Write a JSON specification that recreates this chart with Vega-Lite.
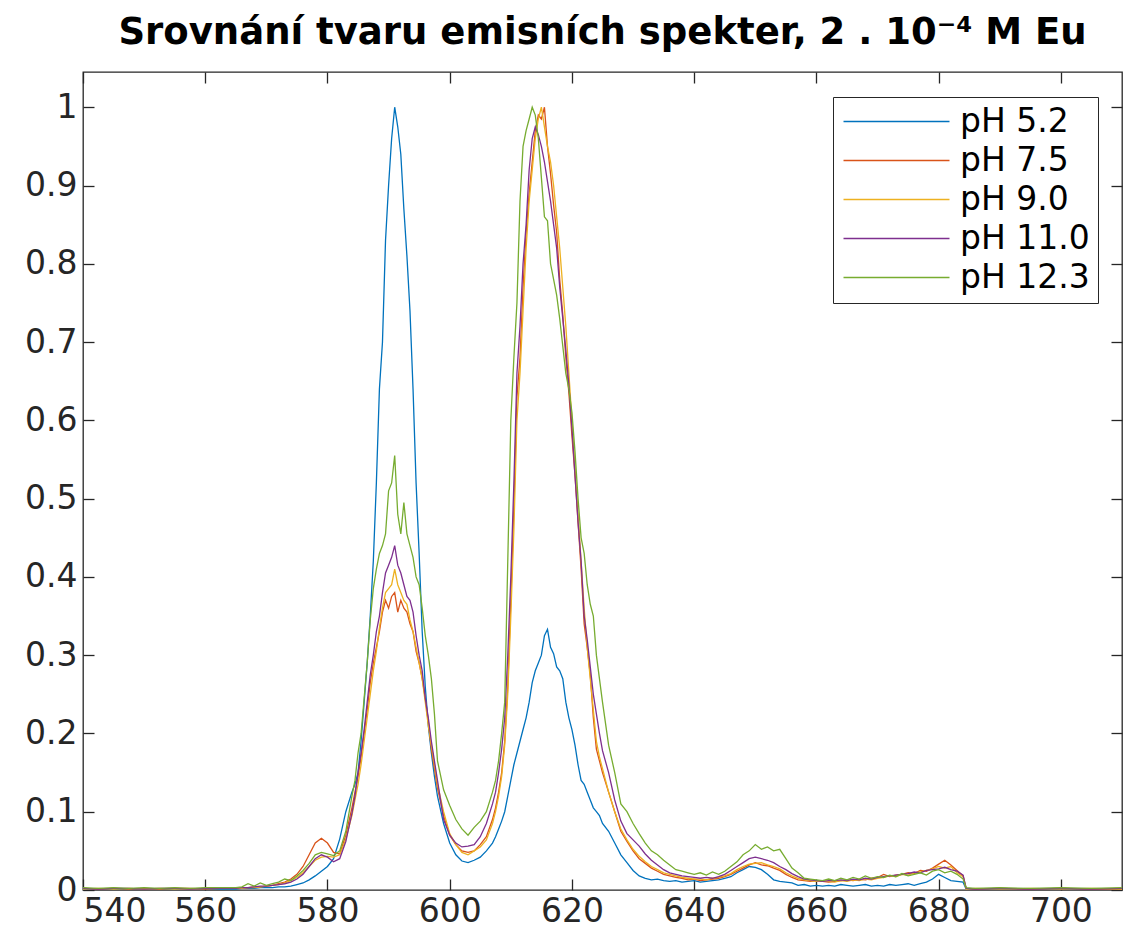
{
"$schema": "https://vega.github.io/schema/vega-lite/v6.json",
"width": 1039, "height": 818,
"autosize": {"type": "none"},
"padding": {"left": 83, "top": 72, "right": 1, "bottom": 52},
"background": "white",
"title": {"text": "Srovnání tvaru emisních spekter, 2 . 10⁻⁴ M Eu", "font": "DejaVu Sans", "fontWeight": "bold", "fontSize": 37, "color": "#000000", "anchor": "middle", "frame": "group", "baseline": "alphabetic", "offset": -10},
"config": {
  "view": {"stroke": "#262626", "strokeWidth": 1.3},
  "axis": {"grid": false, "labelFont": "DejaVu Sans", "labelFontSize": 33, "labelColor": "#262626", "tickColor": "#262626", "tickWidth": 1.3, "domain": false, "title": null}
},
"datasets": {
"b": [{"x":540,"y":0.001},{"x":542.5,"y":0},{"x":545,"y":0.001},{"x":547.5,"y":0},{"x":550,"y":0.001},{"x":552.5,"y":0.001},{"x":555,"y":0},{"x":557.5,"y":0.001},{"x":560,"y":0.001},{"x":562.5,"y":0.001},
{"x":565,"y":0.001},{"x":566,"y":0.002},{"x":567,"y":0.002},{"x":568,"y":0.002},{"x":569,"y":0.003},{"x":570,"y":0.003},{"x":571,"y":0.003},{"x":572,"y":0.004},{"x":573,"y":0.004},{"x":574,"y":0.005},{"x":575,"y":0.007},{"x":576,"y":0.009},{"x":577,"y":0.013},{"x":578,"y":0.018},{"x":579,"y":0.024},{"x":580,"y":0.03},{"x":581,"y":0.04},{"x":582,"y":0.065},{"x":583,"y":0.1},{"x":584,"y":0.125},
{"x":584.5,"y":0.135},{"x":585,"y":0.15},{"x":585.5,"y":0.19},{"x":586,"y":0.24},{"x":586.5,"y":0.29},{"x":587,"y":0.35},{"x":587.5,"y":0.42},{"x":588,"y":0.52},{"x":588.5,"y":0.64},{"x":589,"y":0.7},{"x":589.5,"y":0.83},{"x":590,"y":0.9},{"x":590.5,"y":0.96},{"x":591,"y":1.0},{"x":591.5,"y":0.975},{"x":592,"y":0.94},{"x":592.5,"y":0.87},{"x":593,"y":0.81},{"x":593.5,"y":0.74},{"x":594,"y":0.64},{"x":594.5,"y":0.52},{"x":595,"y":0.43},{"x":595.5,"y":0.33},{"x":596,"y":0.26},{"x":596.5,"y":0.21},{"x":597,"y":0.175},{"x":597.5,"y":0.145},{"x":598,"y":0.12},
{"x":599,"y":0.085},{"x":600,"y":0.06},{"x":601,"y":0.045},{"x":602,"y":0.037},{"x":603,"y":0.035},{"x":604,"y":0.038},{"x":605,"y":0.042},{"x":606,"y":0.05},{"x":607,"y":0.06},
{"x":607.5,"y":0.068},{"x":608,"y":0.078},{"x":608.5,"y":0.088},{"x":609,"y":0.1},{"x":609.5,"y":0.12},{"x":610,"y":0.14},{"x":610.5,"y":0.16},{"x":611,"y":0.175},{"x":611.5,"y":0.19},{"x":612,"y":0.205},{"x":612.5,"y":0.22},{"x":613,"y":0.24},{"x":613.5,"y":0.265},{"x":614,"y":0.28},{"x":614.5,"y":0.29},{"x":615,"y":0.3},{"x":615.5,"y":0.325},{"x":616,"y":0.333},{"x":616.5,"y":0.31},{"x":617,"y":0.302},{"x":617.5,"y":0.285},{"x":618,"y":0.28},{"x":618.5,"y":0.27},{"x":619,"y":0.24},{"x":619.5,"y":0.22},{"x":620,"y":0.205},{"x":620.5,"y":0.185},{"x":621,"y":0.16},{"x":621.5,"y":0.14},{"x":622,"y":0.135},{"x":622.5,"y":0.125},{"x":623,"y":0.115},{"x":623.5,"y":0.105},{"x":624,"y":0.1},{"x":624.5,"y":0.095},{"x":625,"y":0.085},
{"x":626,"y":0.075},{"x":627,"y":0.06},{"x":628,"y":0.045},{"x":629,"y":0.035},{"x":630,"y":0.025},{"x":631,"y":0.018},{"x":632,"y":0.015},{"x":633,"y":0.013},{"x":634,"y":0.014},{"x":635,"y":0.012},{"x":636,"y":0.011},{"x":637,"y":0.012},{"x":638,"y":0.01},{"x":639,"y":0.011},{"x":640,"y":0.012},{"x":641,"y":0.01},{"x":642,"y":0.011},{"x":643,"y":0.012},{"x":644,"y":0.013},{"x":645,"y":0.015},{"x":646,"y":0.017},{"x":647,"y":0.022},{"x":648,"y":0.026},{"x":649,"y":0.03},{"x":650,"y":0.029},{"x":651,"y":0.026},{"x":652,"y":0.02},{"x":653,"y":0.013},{"x":654,"y":0.011},{"x":655,"y":0.01},{"x":656,"y":0.009},{"x":657,"y":0.006},{"x":658,"y":0.007},{"x":659,"y":0.005},{"x":660,"y":0.006},{"x":661,"y":0.005},{"x":662,"y":0.006},{"x":663,"y":0.005},{"x":664,"y":0.007},{"x":665,"y":0.006},{"x":666,"y":0.005},{"x":667,"y":0.006},{"x":668,"y":0.007},{"x":669,"y":0.005},{"x":670,"y":0.006},{"x":671,"y":0.005},{"x":672,"y":0.007},{"x":673,"y":0.006},{"x":674,"y":0.007},{"x":675,"y":0.008},{"x":676,"y":0.006},{"x":677,"y":0.008},{"x":678,"y":0.01},{"x":679,"y":0.014},{"x":680,"y":0.02},{"x":681,"y":0.016},{"x":682,"y":0.012},{"x":683,"y":0.011},{"x":684,"y":0.01},
{"x":684.5,"y":0.001},{"x":686,"y":0},{"x":690,"y":0.001},{"x":695,"y":0},{"x":700,"y":0.001},{"x":705,"y":0},{"x":710,"y":0.001}],
"o": [{"x":540,"y":0.002},{"x":542.5,"y":0.001},{"x":545,"y":0.002},{"x":547.5,"y":0.001},{"x":550,"y":0.002},{"x":552.5,"y":0.001},{"x":555,"y":0.002},{"x":557.5,"y":0.002},{"x":560,"y":0.001},{"x":562.5,"y":0.002},
{"x":565,"y":0.002},{"x":566,"y":0.003},{"x":567,"y":0.003},{"x":568,"y":0.004},{"x":569,"y":0.004},{"x":570,"y":0.005},{"x":571,"y":0.006},{"x":572,"y":0.008},{"x":573,"y":0.01},{"x":574,"y":0.014},{"x":575,"y":0.02},{"x":576,"y":0.03},{"x":577,"y":0.045},{"x":578,"y":0.06},{"x":579,"y":0.066},{"x":580,"y":0.06},{"x":581,"y":0.048},{"x":582,"y":0.046},{"x":583,"y":0.07},{"x":584,"y":0.105},
{"x":584.5,"y":0.125},{"x":585,"y":0.145},{"x":585.5,"y":0.17},{"x":586,"y":0.2},{"x":586.5,"y":0.23},{"x":587,"y":0.265},{"x":587.5,"y":0.29},{"x":588,"y":0.31},{"x":588.5,"y":0.33},{"x":589,"y":0.355},{"x":589.5,"y":0.37},{"x":590,"y":0.36},{"x":590.5,"y":0.375},{"x":591,"y":0.38},{"x":591.5,"y":0.355},{"x":592,"y":0.37},{"x":592.5,"y":0.36},{"x":593,"y":0.355},{"x":593.5,"y":0.34},{"x":594,"y":0.33},{"x":594.5,"y":0.305},{"x":595,"y":0.29},{"x":595.5,"y":0.27},{"x":596,"y":0.245},{"x":596.5,"y":0.215},{"x":597,"y":0.18},{"x":597.5,"y":0.155},{"x":598,"y":0.13},
{"x":599,"y":0.095},{"x":600,"y":0.07},{"x":601,"y":0.058},{"x":602,"y":0.05},{"x":603,"y":0.048},{"x":604,"y":0.05},{"x":605,"y":0.058},{"x":606,"y":0.068},{"x":607,"y":0.09},
{"x":607.5,"y":0.105},{"x":608,"y":0.125},{"x":608.5,"y":0.15},{"x":609,"y":0.19},{"x":609.5,"y":0.26},{"x":610,"y":0.37},{"x":610.5,"y":0.49},{"x":611,"y":0.63},{"x":611.5,"y":0.68},{"x":612,"y":0.77},{"x":612.5,"y":0.84},{"x":613,"y":0.89},{"x":613.5,"y":0.93},{"x":614,"y":0.97},{"x":614.5,"y":0.99},{"x":615,"y":0.985},{"x":615.5,"y":1.0},{"x":616,"y":0.95},{"x":616.5,"y":0.915},{"x":617,"y":0.875},{"x":617.5,"y":0.84},{"x":618,"y":0.78},{"x":618.5,"y":0.735},{"x":619,"y":0.68},{"x":619.5,"y":0.635},{"x":620,"y":0.58},{"x":620.5,"y":0.53},{"x":621,"y":0.47},{"x":621.5,"y":0.41},{"x":622,"y":0.34},{"x":622.5,"y":0.31},{"x":623,"y":0.275},{"x":623.5,"y":0.22},{"x":624,"y":0.18},{"x":624.5,"y":0.165},{"x":625,"y":0.15},
{"x":626,"y":0.125},{"x":627,"y":0.1},{"x":628,"y":0.075},{"x":629,"y":0.062},{"x":630,"y":0.05},{"x":631,"y":0.04},{"x":632,"y":0.034},{"x":633,"y":0.028},{"x":634,"y":0.024},{"x":635,"y":0.02},{"x":636,"y":0.018},{"x":637,"y":0.016},{"x":638,"y":0.015},{"x":639,"y":0.013},{"x":640,"y":0.014},{"x":641,"y":0.012},{"x":642,"y":0.013},{"x":643,"y":0.014},{"x":644,"y":0.015},{"x":645,"y":0.017},{"x":646,"y":0.02},{"x":647,"y":0.024},{"x":648,"y":0.028},{"x":649,"y":0.032},{"x":650,"y":0.035},{"x":651,"y":0.032},{"x":652,"y":0.031},{"x":653,"y":0.028},{"x":654,"y":0.025},{"x":655,"y":0.02},{"x":656,"y":0.016},{"x":657,"y":0.013},{"x":658,"y":0.012},{"x":659,"y":0.011},{"x":660,"y":0.012},{"x":661,"y":0.011},{"x":662,"y":0.01},{"x":663,"y":0.011},{"x":664,"y":0.012},{"x":665,"y":0.013},{"x":666,"y":0.012},{"x":667,"y":0.014},{"x":668,"y":0.013},{"x":669,"y":0.015},{"x":670,"y":0.016},{"x":671,"y":0.02},{"x":672,"y":0.017},{"x":673,"y":0.019},{"x":674,"y":0.02},{"x":675,"y":0.022},{"x":676,"y":0.021},{"x":677,"y":0.025},{"x":678,"y":0.024},{"x":679,"y":0.028},{"x":680,"y":0.033},{"x":681,"y":0.038},{"x":682,"y":0.032},{"x":683,"y":0.025},{"x":684,"y":0.018},
{"x":684.5,"y":0.002},{"x":686,"y":0.001},{"x":690,"y":0.002},{"x":695,"y":0.001},{"x":700,"y":0.002},{"x":705,"y":0.001},{"x":710,"y":0.001}],
"y": [{"x":540,"y":0.001},{"x":542.5,"y":0.002},{"x":545,"y":0.001},{"x":547.5,"y":0.002},{"x":550,"y":0.001},{"x":552.5,"y":0.002},{"x":555,"y":0.001},{"x":557.5,"y":0.001},{"x":560,"y":0.002},{"x":562.5,"y":0.002},
{"x":565,"y":0.002},{"x":566,"y":0.002},{"x":567,"y":0.003},{"x":568,"y":0.003},{"x":569,"y":0.004},{"x":570,"y":0.005},{"x":571,"y":0.006},{"x":572,"y":0.007},{"x":573,"y":0.009},{"x":574,"y":0.012},{"x":575,"y":0.016},{"x":576,"y":0.022},{"x":577,"y":0.03},{"x":578,"y":0.038},{"x":579,"y":0.042},{"x":580,"y":0.043},{"x":581,"y":0.042},{"x":582,"y":0.045},{"x":583,"y":0.065},{"x":584,"y":0.095},
{"x":584.5,"y":0.115},{"x":585,"y":0.135},{"x":585.5,"y":0.16},{"x":586,"y":0.19},{"x":586.5,"y":0.22},{"x":587,"y":0.25},{"x":587.5,"y":0.28},{"x":588,"y":0.305},{"x":588.5,"y":0.335},{"x":589,"y":0.36},{"x":589.5,"y":0.38},{"x":590,"y":0.385},{"x":590.5,"y":0.39},{"x":591,"y":0.41},{"x":591.5,"y":0.39},{"x":592,"y":0.38},{"x":592.5,"y":0.37},{"x":593,"y":0.365},{"x":593.5,"y":0.345},{"x":594,"y":0.33},{"x":594.5,"y":0.31},{"x":595,"y":0.29},{"x":595.5,"y":0.27},{"x":596,"y":0.24},{"x":596.5,"y":0.21},{"x":597,"y":0.185},{"x":597.5,"y":0.16},{"x":598,"y":0.135},
{"x":599,"y":0.1},{"x":600,"y":0.072},{"x":601,"y":0.058},{"x":602,"y":0.048},{"x":603,"y":0.045},{"x":604,"y":0.05},{"x":605,"y":0.055},{"x":606,"y":0.064},{"x":607,"y":0.085},
{"x":607.5,"y":0.1},{"x":608,"y":0.12},{"x":608.5,"y":0.145},{"x":609,"y":0.185},{"x":609.5,"y":0.25},{"x":610,"y":0.35},{"x":610.5,"y":0.46},{"x":611,"y":0.6},{"x":611.5,"y":0.66},{"x":612,"y":0.74},{"x":612.5,"y":0.82},{"x":613,"y":0.88},{"x":613.5,"y":0.92},{"x":614,"y":0.96},{"x":614.5,"y":0.985},{"x":615,"y":1.0},{"x":615.5,"y":0.975},{"x":616,"y":0.95},{"x":616.5,"y":0.93},{"x":617,"y":0.9},{"x":617.5,"y":0.86},{"x":618,"y":0.82},{"x":618.5,"y":0.77},{"x":619,"y":0.72},{"x":619.5,"y":0.66},{"x":620,"y":0.6},{"x":620.5,"y":0.54},{"x":621,"y":0.48},{"x":621.5,"y":0.42},{"x":622,"y":0.36},{"x":622.5,"y":0.31},{"x":623,"y":0.27},{"x":623.5,"y":0.23},{"x":624,"y":0.19},{"x":624.5,"y":0.17},{"x":625,"y":0.155},
{"x":626,"y":0.125},{"x":627,"y":0.1},{"x":628,"y":0.078},{"x":629,"y":0.064},{"x":630,"y":0.052},{"x":631,"y":0.043},{"x":632,"y":0.036},{"x":633,"y":0.03},{"x":634,"y":0.026},{"x":635,"y":0.022},{"x":636,"y":0.02},{"x":637,"y":0.018},{"x":638,"y":0.016},{"x":639,"y":0.015},{"x":640,"y":0.014},{"x":641,"y":0.014},{"x":642,"y":0.013},{"x":643,"y":0.015},{"x":644,"y":0.016},{"x":645,"y":0.018},{"x":646,"y":0.021},{"x":647,"y":0.026},{"x":648,"y":0.03},{"x":649,"y":0.033},{"x":650,"y":0.034},{"x":651,"y":0.035},{"x":652,"y":0.032},{"x":653,"y":0.03},{"x":654,"y":0.027},{"x":655,"y":0.022},{"x":656,"y":0.018},{"x":657,"y":0.015},{"x":658,"y":0.013},{"x":659,"y":0.012},{"x":660,"y":0.011},{"x":661,"y":0.012},{"x":662,"y":0.011},{"x":663,"y":0.01},{"x":664,"y":0.012},{"x":665,"y":0.011},{"x":666,"y":0.013},{"x":667,"y":0.012},{"x":668,"y":0.014},{"x":669,"y":0.013},{"x":670,"y":0.015},{"x":671,"y":0.016},{"x":672,"y":0.018},{"x":673,"y":0.017},{"x":674,"y":0.02},{"x":675,"y":0.019},{"x":676,"y":0.022},{"x":677,"y":0.023},{"x":678,"y":0.025},{"x":679,"y":0.027},{"x":680,"y":0.03},{"x":681,"y":0.028},{"x":682,"y":0.03},{"x":683,"y":0.022},{"x":684,"y":0.017},
{"x":684.5,"y":0.001},{"x":686,"y":0.002},{"x":690,"y":0.001},{"x":695,"y":0.002},{"x":700,"y":0.001},{"x":705,"y":0.002},{"x":710,"y":0.001}],
"p": [{"x":540,"y":0.002},{"x":542.5,"y":0.001},{"x":545,"y":0.002},{"x":547.5,"y":0.002},{"x":550,"y":0.001},{"x":552.5,"y":0.002},{"x":555,"y":0.002},{"x":557.5,"y":0.001},{"x":560,"y":0.002},{"x":562.5,"y":0.002},
{"x":565,"y":0.002},{"x":566,"y":0.003},{"x":567,"y":0.003},{"x":568,"y":0.004},{"x":569,"y":0.005},{"x":570,"y":0.005},{"x":571,"y":0.006},{"x":572,"y":0.007},{"x":573,"y":0.008},{"x":574,"y":0.01},{"x":575,"y":0.014},{"x":576,"y":0.02},{"x":577,"y":0.03},{"x":578,"y":0.04},{"x":579,"y":0.045},{"x":580,"y":0.042},{"x":581,"y":0.036},{"x":582,"y":0.04},{"x":583,"y":0.062},{"x":584,"y":0.098},
{"x":584.5,"y":0.12},{"x":585,"y":0.15},{"x":585.5,"y":0.175},{"x":586,"y":0.205},{"x":586.5,"y":0.24},{"x":587,"y":0.275},{"x":587.5,"y":0.3},{"x":588,"y":0.33},{"x":588.5,"y":0.35},{"x":589,"y":0.38},{"x":589.5,"y":0.405},{"x":590,"y":0.415},{"x":590.5,"y":0.425},{"x":591,"y":0.44},{"x":591.5,"y":0.415},{"x":592,"y":0.405},{"x":592.5,"y":0.39},{"x":593,"y":0.375},{"x":593.5,"y":0.37},{"x":594,"y":0.355},{"x":594.5,"y":0.325},{"x":595,"y":0.3},{"x":595.5,"y":0.28},{"x":596,"y":0.245},{"x":596.5,"y":0.22},{"x":597,"y":0.19},{"x":597.5,"y":0.165},{"x":598,"y":0.14},
{"x":599,"y":0.09},{"x":600,"y":0.07},{"x":601,"y":0.06},{"x":602,"y":0.055},{"x":603,"y":0.056},{"x":604,"y":0.058},{"x":605,"y":0.068},{"x":606,"y":0.085},{"x":607,"y":0.11},
{"x":607.5,"y":0.125},{"x":608,"y":0.15},{"x":608.5,"y":0.18},{"x":609,"y":0.22},{"x":609.5,"y":0.3},{"x":610,"y":0.4},{"x":610.5,"y":0.52},{"x":611,"y":0.66},{"x":611.5,"y":0.72},{"x":612,"y":0.8},{"x":612.5,"y":0.85},{"x":613,"y":0.92},{"x":613.5,"y":0.96},{"x":614,"y":0.975},{"x":614.5,"y":0.965},{"x":615,"y":0.95},{"x":615.5,"y":0.93},{"x":616,"y":0.905},{"x":616.5,"y":0.88},{"x":617,"y":0.85},{"x":617.5,"y":0.82},{"x":618,"y":0.77},{"x":618.5,"y":0.73},{"x":619,"y":0.69},{"x":619.5,"y":0.645},{"x":620,"y":0.59},{"x":620.5,"y":0.53},{"x":621,"y":0.47},{"x":621.5,"y":0.42},{"x":622,"y":0.35},{"x":622.5,"y":0.32},{"x":623,"y":0.285},{"x":623.5,"y":0.25},{"x":624,"y":0.225},{"x":624.5,"y":0.2},{"x":625,"y":0.178},
{"x":626,"y":0.15},{"x":627,"y":0.115},{"x":628,"y":0.088},{"x":629,"y":0.072},{"x":630,"y":0.064},{"x":631,"y":0.056},{"x":632,"y":0.046},{"x":633,"y":0.038},{"x":634,"y":0.032},{"x":635,"y":0.026},{"x":636,"y":0.022},{"x":637,"y":0.02},{"x":638,"y":0.018},{"x":639,"y":0.017},{"x":640,"y":0.016},{"x":641,"y":0.015},{"x":642,"y":0.016},{"x":643,"y":0.015},{"x":644,"y":0.017},{"x":645,"y":0.02},{"x":646,"y":0.025},{"x":647,"y":0.03},{"x":648,"y":0.035},{"x":649,"y":0.04},{"x":650,"y":0.042},{"x":651,"y":0.04},{"x":652,"y":0.038},{"x":653,"y":0.035},{"x":654,"y":0.03},{"x":655,"y":0.026},{"x":656,"y":0.021},{"x":657,"y":0.017},{"x":658,"y":0.014},{"x":659,"y":0.013},{"x":660,"y":0.012},{"x":661,"y":0.011},{"x":662,"y":0.012},{"x":663,"y":0.012},{"x":664,"y":0.013},{"x":665,"y":0.012},{"x":666,"y":0.014},{"x":667,"y":0.013},{"x":668,"y":0.015},{"x":669,"y":0.014},{"x":670,"y":0.016},{"x":671,"y":0.017},{"x":672,"y":0.018},{"x":673,"y":0.019},{"x":674,"y":0.02},{"x":675,"y":0.021},{"x":676,"y":0.023},{"x":677,"y":0.022},{"x":678,"y":0.025},{"x":679,"y":0.026},{"x":680,"y":0.027},{"x":681,"y":0.029},{"x":682,"y":0.026},{"x":683,"y":0.024},{"x":684,"y":0.019},
{"x":684.5,"y":0.002},{"x":686,"y":0.001},{"x":690,"y":0.002},{"x":695,"y":0.001},{"x":700,"y":0.002},{"x":705,"y":0.001},{"x":710,"y":0.002}],
"g": [{"x":540,"y":0.003},{"x":542.5,"y":0.002},{"x":545,"y":0.003},{"x":547.5,"y":0.002},{"x":550,"y":0.003},{"x":552.5,"y":0.002},{"x":555,"y":0.003},{"x":557.5,"y":0.002},{"x":560,"y":0.003},{"x":562.5,"y":0.003},
{"x":565,"y":0.003},{"x":566,"y":0.004},{"x":567,"y":0.008},{"x":568,"y":0.005},{"x":569,"y":0.009},{"x":570,"y":0.006},{"x":571,"y":0.008},{"x":572,"y":0.01},{"x":573,"y":0.014},{"x":574,"y":0.012},{"x":575,"y":0.018},{"x":576,"y":0.025},{"x":577,"y":0.034},{"x":578,"y":0.045},{"x":579,"y":0.048},{"x":580,"y":0.046},{"x":581,"y":0.044},{"x":582,"y":0.05},{"x":583,"y":0.075},{"x":584,"y":0.12},
{"x":584.5,"y":0.14},{"x":585,"y":0.175},{"x":585.5,"y":0.2},{"x":586,"y":0.245},{"x":586.5,"y":0.29},{"x":587,"y":0.345},{"x":587.5,"y":0.385},{"x":588,"y":0.41},{"x":588.5,"y":0.43},{"x":589,"y":0.44},{"x":589.5,"y":0.455},{"x":590,"y":0.51},{"x":590.5,"y":0.52},{"x":591,"y":0.555},{"x":591.5,"y":0.48},{"x":592,"y":0.455},{"x":592.5,"y":0.495},{"x":593,"y":0.455},{"x":593.5,"y":0.44},{"x":594,"y":0.425},{"x":594.5,"y":0.4},{"x":595,"y":0.39},{"x":595.5,"y":0.36},{"x":596,"y":0.325},{"x":596.5,"y":0.3},{"x":597,"y":0.27},{"x":597.5,"y":0.225},{"x":598,"y":0.165},
{"x":599,"y":0.128},{"x":600,"y":0.108},{"x":601,"y":0.09},{"x":602,"y":0.078},{"x":603,"y":0.07},{"x":604,"y":0.08},{"x":605,"y":0.088},{"x":606,"y":0.1},{"x":607,"y":0.125},
{"x":607.5,"y":0.14},{"x":608,"y":0.165},{"x":608.5,"y":0.2},{"x":609,"y":0.24},{"x":609.5,"y":0.42},{"x":610,"y":0.6},{"x":610.5,"y":0.68},{"x":611,"y":0.75},{"x":611.5,"y":0.88},{"x":612,"y":0.95},{"x":612.5,"y":0.97},{"x":613,"y":0.985},{"x":613.5,"y":1.0},{"x":614,"y":0.99},{"x":614.5,"y":0.96},{"x":615,"y":0.91},{"x":615.5,"y":0.86},{"x":616,"y":0.855},{"x":616.5,"y":0.8},{"x":617,"y":0.78},{"x":617.5,"y":0.76},{"x":618,"y":0.73},{"x":618.5,"y":0.695},{"x":619,"y":0.66},{"x":619.5,"y":0.64},{"x":620,"y":0.61},{"x":620.5,"y":0.56},{"x":621,"y":0.5},{"x":621.5,"y":0.45},{"x":622,"y":0.43},{"x":622.5,"y":0.39},{"x":623,"y":0.365},{"x":623.5,"y":0.35},{"x":624,"y":0.3},{"x":624.5,"y":0.27},{"x":625,"y":0.24},
{"x":626,"y":0.185},{"x":627,"y":0.15},{"x":628,"y":0.11},{"x":629,"y":0.1},{"x":630,"y":0.085},{"x":631,"y":0.072},{"x":632,"y":0.06},{"x":633,"y":0.05},{"x":634,"y":0.045},{"x":635,"y":0.038},{"x":636,"y":0.032},{"x":637,"y":0.026},{"x":638,"y":0.024},{"x":639,"y":0.022},{"x":640,"y":0.02},{"x":641,"y":0.022},{"x":642,"y":0.019},{"x":643,"y":0.023},{"x":644,"y":0.02},{"x":645,"y":0.024},{"x":646,"y":0.03},{"x":647,"y":0.036},{"x":648,"y":0.045},{"x":649,"y":0.05},{"x":650,"y":0.058},{"x":651,"y":0.052},{"x":652,"y":0.055},{"x":653,"y":0.05},{"x":654,"y":0.052},{"x":655,"y":0.04},{"x":656,"y":0.028},{"x":657,"y":0.022},{"x":658,"y":0.015},{"x":659,"y":0.014},{"x":660,"y":0.013},{"x":661,"y":0.012},{"x":662,"y":0.014},{"x":663,"y":0.012},{"x":664,"y":0.015},{"x":665,"y":0.013},{"x":666,"y":0.016},{"x":667,"y":0.014},{"x":668,"y":0.018},{"x":669,"y":0.015},{"x":670,"y":0.017},{"x":671,"y":0.016},{"x":672,"y":0.019},{"x":673,"y":0.017},{"x":674,"y":0.021},{"x":675,"y":0.018},{"x":676,"y":0.02},{"x":677,"y":0.022},{"x":678,"y":0.019},{"x":679,"y":0.024},{"x":680,"y":0.026},{"x":681,"y":0.022},{"x":682,"y":0.024},{"x":683,"y":0.02},{"x":684,"y":0.014},
{"x":684.5,"y":0.003},{"x":686,"y":0.002},{"x":690,"y":0.003},{"x":695,"y":0.002},{"x":700,"y":0.003},{"x":705,"y":0.002},{"x":710,"y":0.003}]
},
"layer": [
  {"data": {"name": "b"}, "mark": {"type": "line", "strokeWidth": 1.3, "clip": true},
   "encoding": {
     "x": {"field": "x", "type": "quantitative", "scale": {"domain": [540, 710], "nice": false, "zero": false},
           "axis": {"orient": "bottom", "values": [540, 560, 580, 600, 620, 640, 660, 680, 700], "tickSize": -11, "labelPadding": 16}},
     "y": {"field": "y", "type": "quantitative", "scale": {"domain": [0, 1.045], "nice": false, "zero": false},
           "axis": {"orient": "left", "values": [0, 0.1, 0.2, 0.3, 0.4, 0.5, 0.6, 0.7, 0.8, 0.9, 1], "format": ".1~f", "tickSize": -11, "labelPadding": 17}},
     "color": {"datum": "pH 5.2", "type": "nominal",
       "scale": {"domain": ["pH 5.2", "pH 7.5", "pH 9.0", "pH 11.0", "pH 12.3"], "range": ["#0072BD", "#D95319", "#EDB120", "#7E2F8E", "#77AC30"]},
       "legend": {"orient": "none", "legendX": 750, "legendY": 25, "title": null, "symbolType": "M-6,0H6", "symbolSize": 312, "symbolStrokeWidth": 1.5, "symbolOffset": 39, "labelFontSize": 33, "labelFont": "DejaVu Sans", "labelColor": "#000000", "strokeColor": "#262626", "fillColor": "white", "padding": 8, "labelOffset": 47, "rowPadding": 5, "labelLimit": 400}}
   }},
  {"data": {"name": "o"}, "mark": {"type": "line", "strokeWidth": 1.3, "clip": true},
   "encoding": {
     "x": {"field": "x", "type": "quantitative", "axis": null},
     "y": {"field": "y", "type": "quantitative", "axis": {"orient": "right", "values": [0, 0.1, 0.2, 0.3, 0.4, 0.5, 0.6, 0.7, 0.8, 0.9, 1], "tickSize": -11, "labels": false, "minExtent": 0, "maxExtent": 0}},
     "color": {"datum": "pH 7.5", "type": "nominal"}
   }},
  {"data": {"name": "y"}, "mark": {"type": "line", "strokeWidth": 1.3, "clip": true},
   "encoding": {
     "x": {"field": "x", "type": "quantitative", "axis": {"orient": "top", "values": [540, 560, 580, 600, 620, 640, 660, 680, 700], "tickSize": -11, "labels": false, "minExtent": 0, "maxExtent": 0}},
     "y": {"field": "y", "type": "quantitative", "axis": null},
     "color": {"datum": "pH 9.0", "type": "nominal"}
   }},
  {"data": {"name": "p"}, "mark": {"type": "line", "strokeWidth": 1.3, "clip": true},
   "encoding": {
     "x": {"field": "x", "type": "quantitative", "axis": null},
     "y": {"field": "y", "type": "quantitative", "axis": null},
     "color": {"datum": "pH 11.0", "type": "nominal"}
   }},
  {"data": {"name": "g"}, "mark": {"type": "line", "strokeWidth": 1.3, "clip": true},
   "encoding": {
     "x": {"field": "x", "type": "quantitative", "axis": null},
     "y": {"field": "y", "type": "quantitative", "axis": null},
     "color": {"datum": "pH 12.3", "type": "nominal"}
   }}
],
"resolve": {"axis": {"x": "independent", "y": "independent"}}
}
